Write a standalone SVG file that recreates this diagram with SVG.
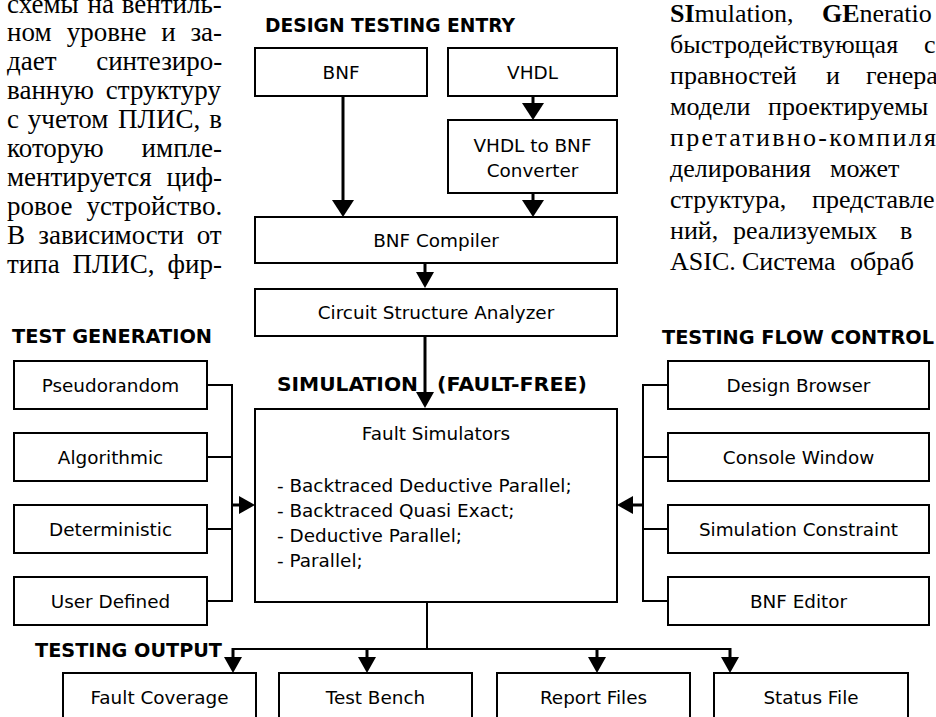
<svg xmlns="http://www.w3.org/2000/svg" width="936" height="717" viewBox="0 0 936 717">
<style>
.box{fill:#fff;stroke:#000;stroke-width:2}
.t{font-family:"DejaVu Sans",Verdana,sans-serif;font-size:18.4px;fill:#000}
.c{text-anchor:middle}
.h{font-family:"DejaVu Sans",Verdana,sans-serif;font-weight:bold;font-size:19.5px;fill:#000}
.flow{stroke:#000;stroke-width:3;fill:none}
.tree{stroke:#000;stroke-width:2;fill:none}
.ru{font-family:"Liberation Serif","Times New Roman",serif;font-size:27px;fill:#000}
.rr{font-family:"Liberation Serif","Times New Roman",serif;font-size:26px;fill:#000}
.b{font-weight:bold}
</style>
<defs>
<marker id="ah" markerUnits="userSpaceOnUse" viewBox="0 0 16 18" refX="0" refY="9" markerWidth="16" markerHeight="18" orient="auto"><path d="M0,0 L16,9 L0,18 Z" fill="#000"/></marker>
<marker id="ahL" markerUnits="userSpaceOnUse" viewBox="0 0 17 22" refX="0" refY="11" markerWidth="17" markerHeight="22" orient="auto"><path d="M0,0 L17,11 L0,22 Z" fill="#000"/></marker>
</defs>
<rect width="936" height="717" fill="#fff"/>

<g id="left-text" class="ru">
<text y="13"><tspan x="7">схемы</tspan><tspan x="87.5">на</tspan><tspan x="121.7">вентиль-</tspan></text>
<text y="41"><tspan x="7">ном</tspan><tspan x="66.8">уровне</tspan><tspan x="161.3">и</tspan><tspan x="190.4">за-</tspan></text>
<text y="70"><tspan x="7">дает</tspan><tspan x="96.2">синтезиро-</tspan></text>
<text y="99"><tspan x="7">ванную</tspan><tspan x="105.8">структуру</tspan></text>
<text y="128"><tspan x="7">с</tspan><tspan x="27.8">учетом</tspan><tspan x="118.1">ПЛИС,</tspan><tspan x="209.3">в</tspan></text>
<text y="157"><tspan x="7">которую</tspan><tspan x="141.6">импле-</tspan></text>
<text y="186"><tspan x="7">ментируется</tspan><tspan x="166.6">циф-</tspan></text>
<text y="215"><tspan x="7">ровое</tspan><tspan x="86.5">устройство.</tspan></text>
<text y="244"><tspan x="7">В</tspan><tspan x="38.3">зависимости</tspan><tspan x="196.7">от</tspan></text>
<text y="273"><tspan x="7">типа</tspan><tspan x="72.4">ПЛИС,</tspan><tspan x="167.6">фир-</tspan></text>
</g>

<g id="right-text" class="rr">
<text y="22"><tspan x="670" class="b">SI</tspan><tspan>mulation,</tspan><tspan x="822" class="b">GE</tspan><tspan>neratio</tspan></text>
<text y="53"><tspan x="670">быстродействующая</tspan><tspan x="924">с</tspan></text>
<text y="84"><tspan x="670">правностей</tspan><tspan x="826">и</tspan><tspan x="866">генера</tspan></text>
<text y="115"><tspan x="670">модели</tspan><tspan x="768">проектируемы</tspan></text>
<text y="146" x="670" textLength="266" lengthAdjust="spacing">претативно-компиля</text>
<text y="177"><tspan x="670">делирования</tspan><tspan x="830">может</tspan></text>
<text y="208"><tspan x="670">структура,</tspan><tspan x="812">представле</tspan></text>
<text y="239"><tspan x="670">ний,</tspan><tspan x="733">реализуемых</tspan><tspan x="900">в</tspan></text>
<text y="270"><tspan x="670">ASIC.</tspan><tspan x="742">Система</tspan><tspan x="850">обраб</tspan></text>
</g>

<g id="labels" class="h">
<text x="265" y="32" textLength="250" lengthAdjust="spacingAndGlyphs">DESIGN TESTING ENTRY</text>
<text x="12" y="343" textLength="200" lengthAdjust="spacingAndGlyphs">TEST GENERATION</text>
<text x="662" y="344" textLength="272" lengthAdjust="spacingAndGlyphs">TESTING FLOW CONTROL</text>
<text y="391"><tspan x="277" textLength="141" lengthAdjust="spacingAndGlyphs">SIMULATION</tspan><tspan x="437" textLength="150" lengthAdjust="spacingAndGlyphs">(FAULT-FREE)</tspan></text>
<text x="35" y="657" textLength="187" lengthAdjust="spacingAndGlyphs">TESTING OUTPUT</text>
</g>

<g id="connectors">
<path class="flow" d="M343,96 V200" marker-end="url(#ahL)"/>
<path class="flow" d="M533,96 V103" marker-end="url(#ahL)"/>
<path class="flow" d="M533,193 V200" marker-end="url(#ahL)"/>
<path class="flow" d="M425,263 V272" marker-end="url(#ah)"/>
<path class="flow" d="M425,336 V392" marker-end="url(#ah)"/>
<path class="tree" d="M207,385 H232 M207,457 H232 M207,529 H232 M207,601 H232 M232,384 V602"/>
<path class="flow" d="M232,505 H239" marker-end="url(#ah)"/>
<path class="tree" d="M668,385 H643 M668,457 H643 M668,529 H643 M668,601 H643 M643,384 V602"/>
<path class="flow" d="M643,505 H633" marker-end="url(#ah)"/>
<path class="tree" d="M427,602 V649 M232,649 H731"/>
<path class="flow" d="M233,648 V657" marker-end="url(#ah)"/>
<path class="flow" d="M367,648 V657" marker-end="url(#ah)"/>
<path class="flow" d="M597,648 V657" marker-end="url(#ah)"/>
<path class="flow" d="M730,648 V657" marker-end="url(#ah)"/>
</g>

<g id="n-bnf"><rect class="box" x="255" y="48" width="172" height="48"/><text class="t c" x="341" y="79">BNF</text></g>
<g id="n-vhdl"><rect class="box" x="448" y="48" width="169" height="48"/><text class="t c" x="532.5" y="79">VHDL</text></g>
<g id="n-conv"><rect class="box" x="448" y="120" width="169" height="73"/><text class="t c" x="532.5" y="152">VHDL to BNF</text><text class="t c" x="532.5" y="177">Converter</text></g>
<g id="n-compiler"><rect class="box" x="255" y="217" width="362" height="46"/><text class="t c" x="436" y="247">BNF Compiler</text></g>
<g id="n-csa"><rect class="box" x="255" y="289" width="362" height="47"/><text class="t c" x="436" y="319">Circuit Structure Analyzer</text></g>
<g id="n-faultsim"><rect class="box" x="255" y="409" width="362" height="193"/>
<text class="t c" x="436" y="440">Fault Simulators</text>
<text class="t" x="277" y="492">- Backtraced Deductive Parallel;</text>
<text class="t" x="277" y="517">- Backtraced Quasi Exact;</text>
<text class="t" x="277" y="542">- Deductive Parallel;</text>
<text class="t" x="277" y="567">- Parallel;</text>
</g>

<g id="n-pseudorandom"><rect class="box" x="14" y="361" width="193" height="48"/><text class="t c" x="110.5" y="392">Pseudorandom</text></g>
<g id="n-algorithmic"><rect class="box" x="14" y="433" width="193" height="48"/><text class="t c" x="110.5" y="464">Algorithmic</text></g>
<g id="n-deterministic"><rect class="box" x="14" y="505" width="193" height="48"/><text class="t c" x="110.5" y="536">Deterministic</text></g>
<g id="n-userdefined"><rect class="box" x="14" y="577" width="193" height="48"/><text class="t c" x="110.5" y="608">User Defined</text></g>

<g id="n-browser"><rect class="box" x="668" y="361" width="261" height="48"/><text class="t c" x="798.5" y="392">Design Browser</text></g>
<g id="n-console"><rect class="box" x="668" y="433" width="261" height="48"/><text class="t c" x="798.5" y="464">Console Window</text></g>
<g id="n-constraint"><rect class="box" x="668" y="505" width="261" height="48"/><text class="t c" x="798.5" y="536">Simulation Constraint</text></g>
<g id="n-editor"><rect class="box" x="668" y="577" width="261" height="48"/><text class="t c" x="798.5" y="608">BNF Editor</text></g>

<g id="n-coverage"><rect class="box" x="63" y="673" width="193" height="52"/><text class="t c" x="159.5" y="704">Fault Coverage</text></g>
<g id="n-testbench"><rect class="box" x="279" y="673" width="193" height="52"/><text class="t c" x="375.5" y="704">Test Bench</text></g>
<g id="n-report"><rect class="box" x="497" y="673" width="193" height="52"/><text class="t c" x="593.5" y="704">Report Files</text></g>
<g id="n-status"><rect class="box" x="714" y="673" width="194" height="52"/><text class="t c" x="811" y="704">Status File</text></g>
</svg>
